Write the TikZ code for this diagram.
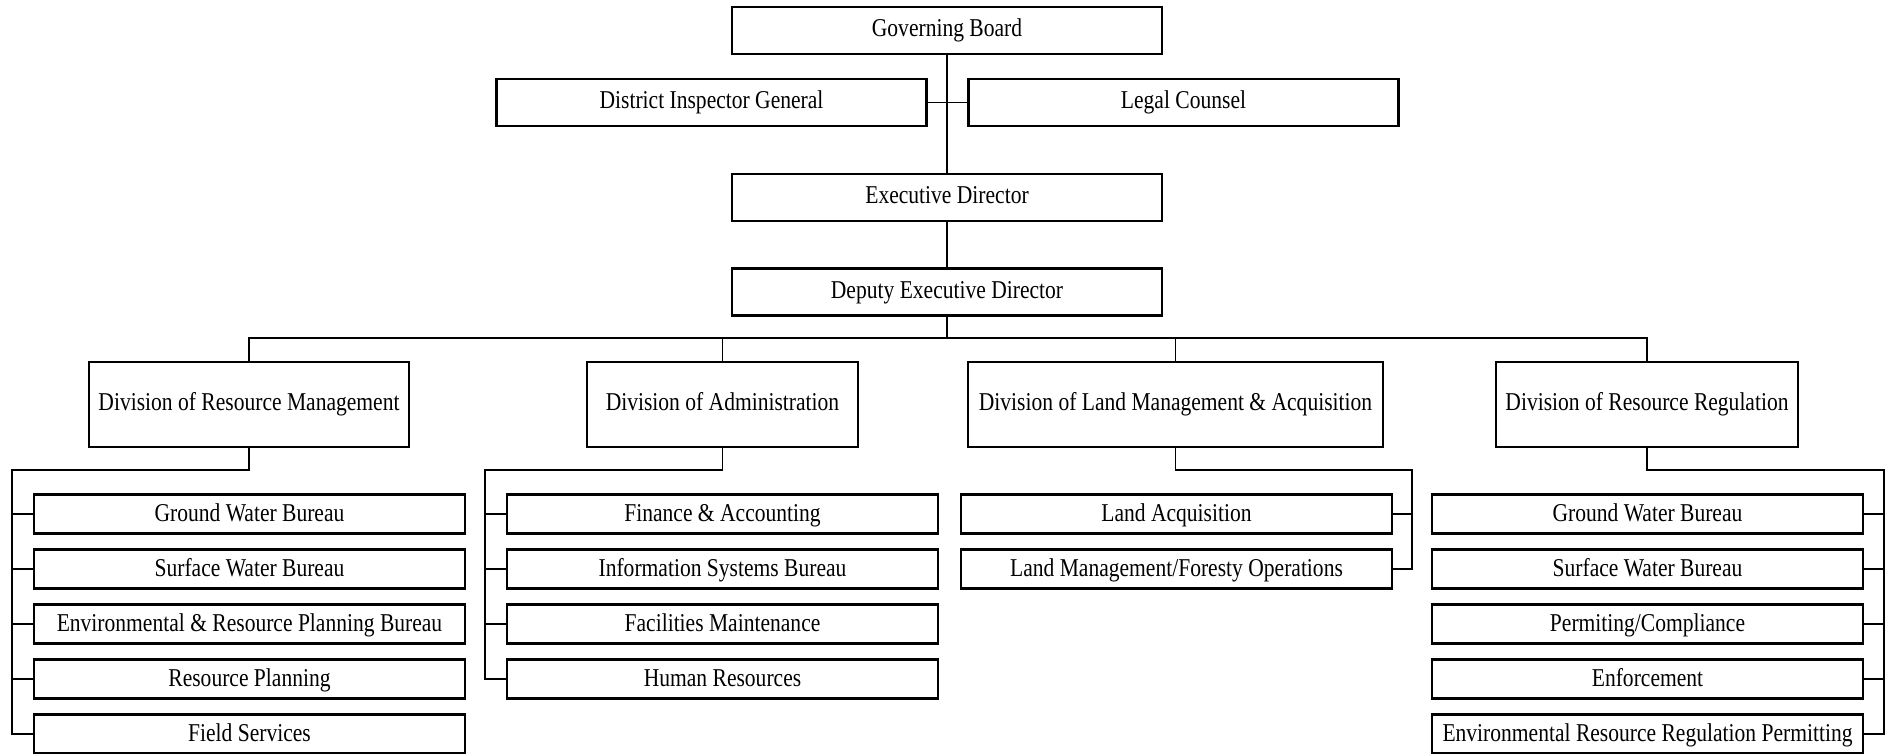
\documentclass[tikz,border=0pt]{standalone}
\usepackage{fontspec}
\setmainfont{Liberation Serif}[FakeStretch=0.84]
\begin{document}
\begin{tikzpicture}[
  box/.style={draw,line width=0.6pt,inner sep=0pt,text height=5.1pt,text depth=1.6pt,font=\fontsize{7.3}{8.8}\selectfont},
  head/.style={box,minimum width=4.3cm,minimum height=0.47cm},
  division/.style={box,minimum height=0.85cm},
  unit/.style={box,minimum width=4.31cm,minimum height=0.39cm,text depth=0.6pt},
  link/.style={line width=0.55pt}]
  \useasboundingbox (0,0) rectangle (18.93,7.53);
  \node[head] (board) at (9.47,7.225) {Governing Board};
  \node[head] (inspector) at (7.115,6.505) {District Inspector General};
  \node[head] (legal) at (11.835,6.505) {Legal Counsel};
  \node[head] (exec) at (9.47,5.555) {Executive Director};
  \node[head] (deputy) at (9.47,4.61) {Deputy Executive Director};
  \draw[link] (board) -- (exec);
  \draw[link] (inspector) -- (legal);
  \draw[link] (exec) -- (deputy);
  \coordinate (bus) at (9.47,4.15);
  \draw[link] (deputy) -- (bus);
  \node[division,minimum width=3.2cm] (resmgmt) at (2.49,3.485) {Division of Resource Management};
  \node[division,minimum width=2.71cm] (admin) at (7.225,3.485) {Division of Administration};
  \node[division,minimum width=4.15cm] (landmgmt) at (11.755,3.485) {Division of Land Management \& Acquisition};
  \node[division,minimum width=3.02cm] (resreg) at (16.47,3.485) {Division of Resource Regulation};
  \draw[link] (resmgmt.north) |- (bus) -| (resreg.north);
  \draw[link] (admin.north) -- (admin.north |- bus);
  \draw[link] (landmgmt.north) -- (landmgmt.north |- bus);
  \node[unit] (rmground) at (2.495,2.39) {Ground Water Bureau};
  \node[unit] (rmsurface) at (2.495,1.84) {Surface Water Bureau};
  \node[unit] (rmenv) at (2.495,1.29) {Environmental \& Resource Planning Bureau};
  \node[unit] (rmplan) at (2.495,0.74) {Resource Planning};
  \node[unit] (rmfield) at (2.495,0.19) {Field Services};
  \coordinate (rmrail) at (0.12,2.83);
  \draw[link] (resmgmt.south) |- (rmrail) |- (rmfield.west);
  \draw[link] (rmground.west) -- (rmground.west -| rmrail) (rmsurface.west) -- (rmsurface.west -| rmrail)
    (rmenv.west) -- (rmenv.west -| rmrail) (rmplan.west) -- (rmplan.west -| rmrail);
  \node[unit] (adfinance) at (7.225,2.39) {Finance \& Accounting};
  \node[unit] (adinfo) at (7.225,1.84) {Information Systems Bureau};
  \node[unit] (adfacil) at (7.225,1.29) {Facilities Maintenance};
  \node[unit] (adhuman) at (7.225,0.74) {Human Resources};
  \coordinate (adrail) at (4.85,2.83);
  \draw[link] (admin.south) |- (adrail) |- (adhuman.west);
  \draw[link] (adfinance.west) -- (adfinance.west -| adrail) (adinfo.west) -- (adinfo.west -| adrail)
    (adfacil.west) -- (adfacil.west -| adrail);
  \node[unit] (lmacq) at (11.765,2.39) {Land Acquisition};
  \node[unit] (lmforest) at (11.765,1.84) {Land Management/Foresty Operations};
  \coordinate (lmrail) at (14.12,2.83);
  \draw[link] (landmgmt.south) |- (lmrail) |- (lmforest.east);
  \draw[link] (lmacq.east) -- (lmacq.east -| lmrail);
  \node[unit] (rrground) at (16.475,2.39) {Ground Water Bureau};
  \node[unit] (rrsurface) at (16.475,1.84) {Surface Water Bureau};
  \node[unit] (rrpermit) at (16.475,1.29) {Permiting/Compliance};
  \node[unit] (rrenforce) at (16.475,0.74) {Enforcement};
  \node[unit] (rrenv) at (16.475,0.19) {Environmental Resource Regulation Permitting};
  \coordinate (rrrail) at (18.84,2.83);
  \draw[link] (resreg.south) |- (rrrail) |- (rrenv.east);
  \draw[link] (rrground.east) -- (rrground.east -| rrrail) (rrsurface.east) -- (rrsurface.east -| rrrail)
    (rrpermit.east) -- (rrpermit.east -| rrrail) (rrenforce.east) -- (rrenforce.east -| rrrail);
\end{tikzpicture}
\end{document}
